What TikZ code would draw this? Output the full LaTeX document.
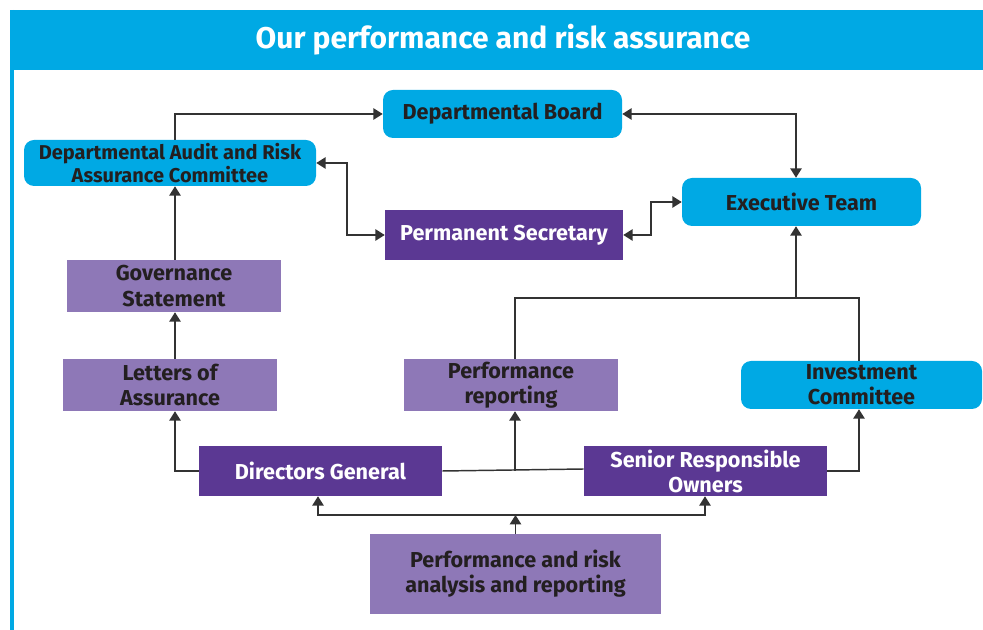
\documentclass[tikz,border=0pt]{standalone}
\usepackage{fontspec}
\setmainfont{Fira Sans}
\usetikzlibrary{arrows.meta,calc}
\definecolor{hblue}{HTML}{00A9E4}
\definecolor{dpurple}{HTML}{5B3893}
\definecolor{lpurple}{HTML}{8E78B7}
\definecolor{ink}{HTML}{231F20}
\definecolor{wire}{HTML}{333333}
\begin{document}
\begin{tikzpicture}[x=0.75pt,y=-0.75pt,
  box/.style={font=\fontsize{16.2}{18.8}\selectfont\bfseries, align=center, inner sep=0pt},
  bluebox/.style={box, fill=hblue, rounded corners=7.5pt, text=ink},
  darkbox/.style={box, fill=dpurple, text=white},
  lightbox/.style={box, fill=lpurple, text=ink},
  conn/.style={draw=wire, line width=1.1pt},
  arr/.style={conn, -{Triangle[length=7pt,width=8.5pt]}},
  darr/.style={conn, {Triangle[length=7pt,width=8.5pt]}-{Triangle[length=7pt,width=8.5pt]}}]
\useasboundingbox (0,0) rectangle (983,630);
% frame
\fill[hblue] (10,10) rectangle (990,70);
\draw[hblue, line width=2.3pt] (12,10) -- (12,640);
\node[font=\fontsize{22.5}{26}\selectfont\bfseries, text=white] (title) at (503,40) {Our performance and risk assurance};
% nodes
\node[bluebox, minimum width=179.25pt, minimum height=36pt] (DB) at (502.5,114) {Departmental Board};
\node[bluebox, minimum width=219pt, minimum height=34.5pt, font=\fontsize{15}{17.3}\selectfont\bfseries] (DARAC) at (170,163) {Departmental Audit and Risk\\Assurance Committee};
\node[bluebox, minimum width=179.25pt, minimum height=36pt] (ET) at (801.5,202) {Executive Team};
\node[darkbox, minimum width=178.5pt, minimum height=37.5pt] (PS) at (504,235) {Permanent Secretary};
\node[lightbox, minimum width=160.5pt, minimum height=39pt] (GS) at (174,286) {Governance\\Statement};
\node[lightbox, minimum width=160.5pt, minimum height=39pt] (LoA) at (170,385) {Letters of\\Assurance};
\node[lightbox, minimum width=160.5pt, minimum height=39pt] (PR) at (511,385) {Performance\\reporting};
\node[bluebox, minimum width=180.75pt, minimum height=36pt] (IC) at (861.5,385) {Investment\\Committee};
\node[darkbox, minimum width=182.25pt, minimum height=37.5pt] (DG) at (320.5,471) {Directors General};
\node[darkbox, minimum width=182.25pt, minimum height=37.5pt] (SRO) at (705.5,471) {Senior Responsible\\Owners};
\node[lightbox, minimum width=218.25pt, minimum height=60pt] (PRAR) at (515.5,574) {Performance and risk\\analysis and reporting};
% helper coordinates
\coordinate (xL) at (175,0);
\coordinate (xET) at (796,0);
\coordinate (xPR) at (515,0);
\coordinate (xIC) at (859,0);
\coordinate (yTop) at (0,298);
\coordinate (yBus) at (0,515);
\coordinate (xDG) at (318,0);
\coordinate (xSRO) at (705,0);
\coordinate (xP1) at (347,0);
\coordinate (xP2) at (651,0);
% connectors
\draw[arr] (DARAC.north -| xL) |- (DB.west);
\draw[darr] (DB.east) -| (ET.north -| xET);
\draw[darr] (DARAC.east) -- (DARAC.east -| xP1) |- (PS.west);
\draw[darr] (PS.east) -- (PS.east -| xP2) |- (ET.west);
\draw[arr] (GS.north -| xL) -- (DARAC.south -| xL);
\draw[arr] (LoA.north -| xL) -- (GS.south -| xL);
\draw[arr] (DG.west) -| (LoA.south -| xL);
\draw[conn] (DG.east) -- ($(SRO.west)+(0,-2)$);
\draw[arr] (xPR |- DG.east) -- (PR.south -| xPR);
\draw[conn] (PR.north -| xPR) |- (xIC |- yTop) -- (IC.north -| xIC);
\draw[arr] (xET |- yTop) -- (ET.south -| xET);
\draw[arr] (SRO.east) -| (IC.south -| xIC);
\draw[arr] (PRAR.north) -- (PRAR.north |- yBus);
\draw[darr] (DG.south -| xDG) -- (xDG |- yBus) -- (xSRO |- yBus) -- (SRO.south -| xSRO);
\end{tikzpicture}
\end{document}
